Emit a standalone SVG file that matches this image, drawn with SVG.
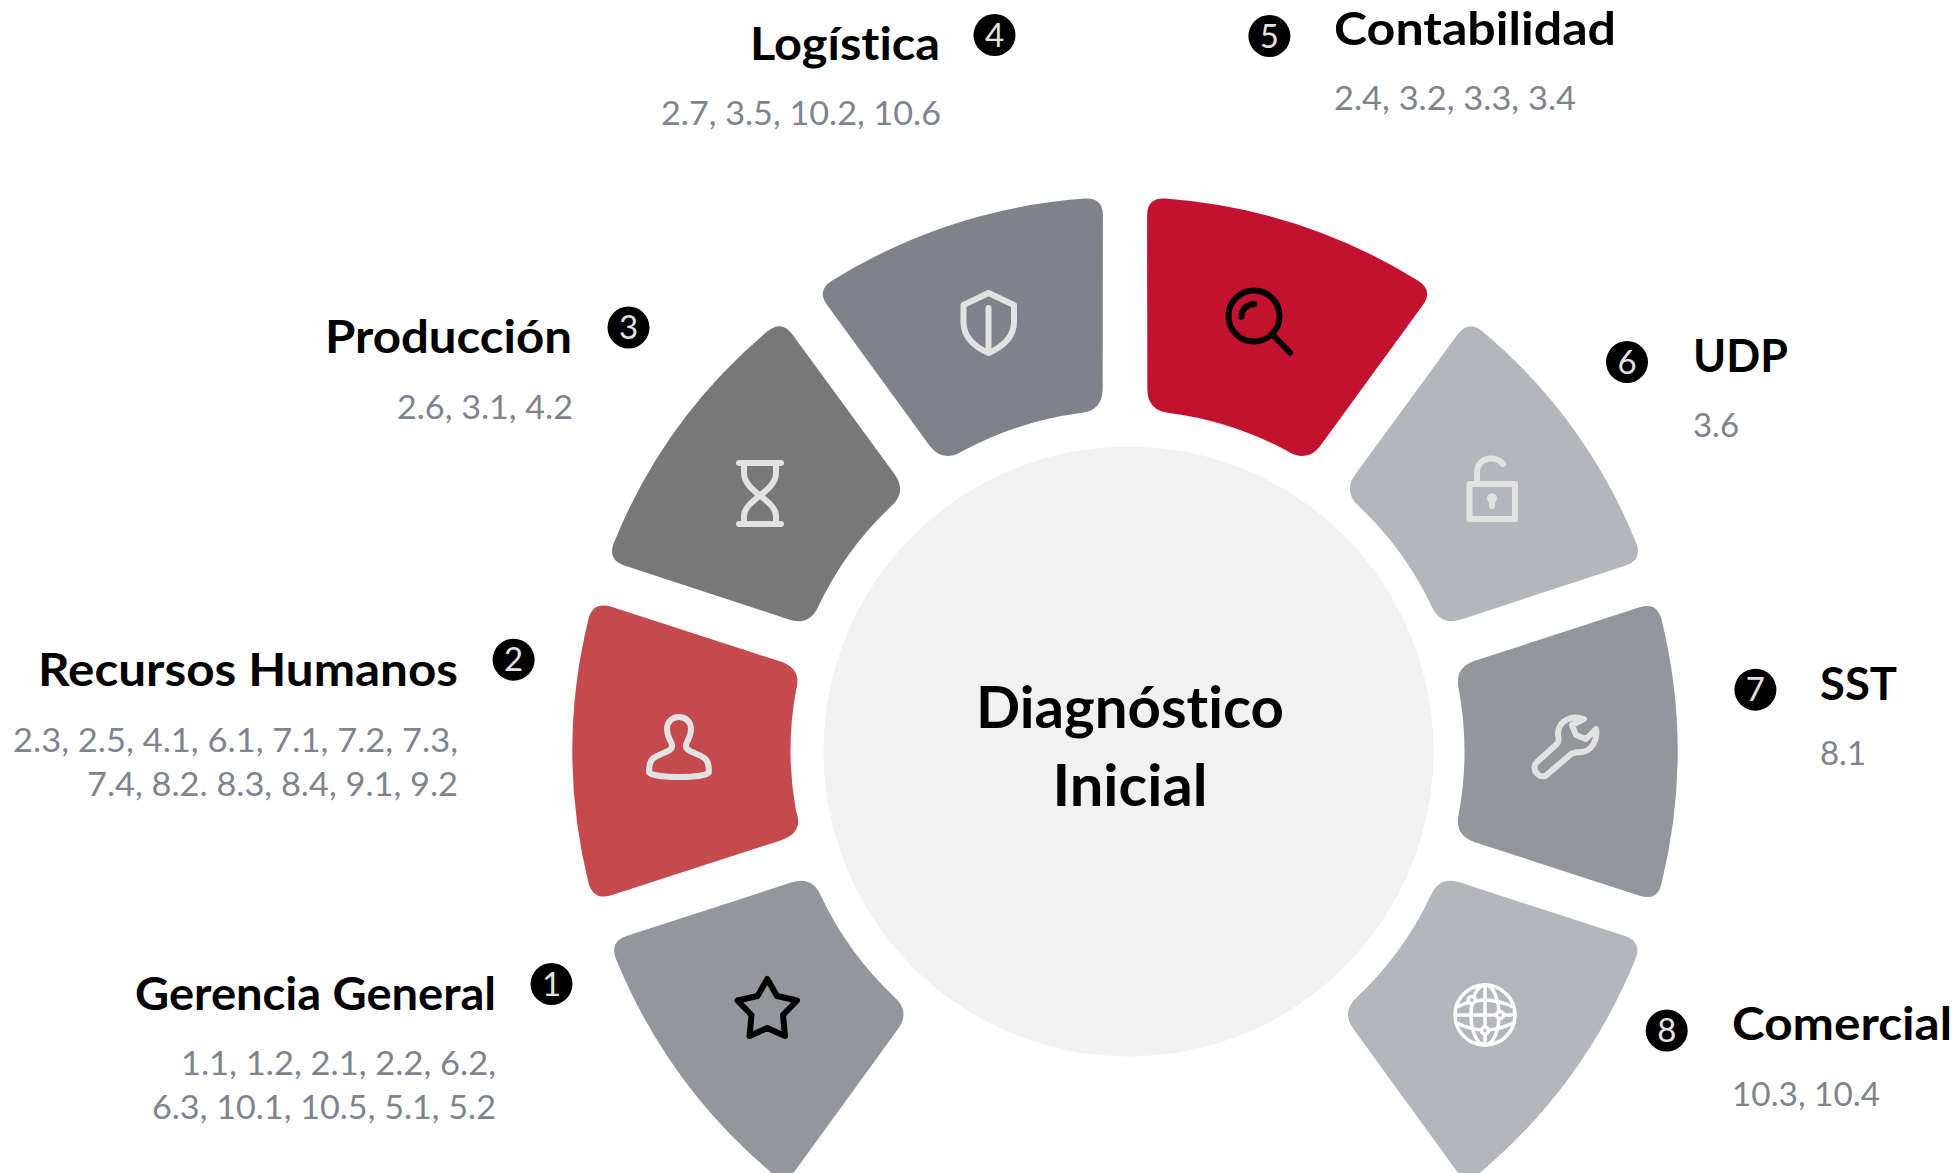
<svg xmlns="http://www.w3.org/2000/svg" xmlns:xlink="http://www.w3.org/1999/xlink" width="1959" height="1173" viewBox="0 0 1959 1173">
<style>
text{font-family:"Lato","Open Sans","Liberation Sans",sans-serif;font-variant-ligatures:none}
.t{font-size:46px;font-weight:700;fill:#000}
.s{font-size:33px;fill:#7f838d}
.c{font-size:58px;font-weight:700;fill:#000;text-anchor:middle}
.n{font-size:33px;fill:#e2e2e2;text-anchor:middle}
.il{fill:none;stroke:#e2e2e2;stroke-width:6;stroke-linecap:round;stroke-linejoin:round}
.ik{fill:none;stroke:#000;stroke-width:6;stroke-linecap:round;stroke-linejoin:round}
.iw{fill:none;stroke:#fff;stroke-width:3.5}
</style>
<defs>
<path id="w" d="M-132.4,-536.9A553,553 0 0 1 132.4,-536.9Q149.83,-532.33 144.27,-515.21L90.72,-350.41Q83.92,-329.49 62.43,-334.2A340,340 0 0 0 -62.43,-334.2Q-83.92,-329.49 -90.72,-350.41L-144.27,-515.21Q-149.83,-532.33 -132.4,-536.9Z"/>
</defs>
<rect width="1959" height="1173" fill="#fff"/>
<g id="connectors"></g>
<g id="centro">
<circle cx="1128.5" cy="751.5" r="305" fill="#f1f1f1"/>
<text class="c" x="1130" y="728" textLength="308" lengthAdjust="spacingAndGlyphs">Diagnóstico</text>
<text class="c" x="1130" y="806" textLength="155" lengthAdjust="spacingAndGlyphs">Inicial</text>
</g>
<g id="n1">
<use xlink:href="#w" href="#w" transform="translate(1128 750) rotate(-126)" fill="#93969d"/>
<path class="ik" d="M767.3 979L777 996L797 1000.5L783 1015L785 1036L767.3 1028L749.5 1036L751.5 1015L737.5 1000.5L757.5 996Z"/>
<circle cx="551.5" cy="984" r="21"/>
<text class="n" x="551.5" y="995.5">1</text>
<text class="t" x="135" y="1010" textLength="361" lengthAdjust="spacingAndGlyphs">Gerencia General</text>
<text class="s" x="181" y="1075" textLength="315" lengthAdjust="spacingAndGlyphs">1.1, 1.2, 2.1, 2.2, 6.2,</text>
<text class="s" x="152" y="1119" textLength="344" lengthAdjust="spacingAndGlyphs">6.3, 10.1, 10.5, 5.1, 5.2</text>
</g>
<g id="n2">
<path transform="translate(1126.5 751) rotate(-90)" fill="#c44a4d" d="M-132.4,-537.9A553,553 0 0 1 132.4,-537.9Q149.83,-533.33 144.27,-515.21L89.5,-346Q82,-324 60.5,-330.5A335,335 0 0 0 -60,-330.5Q-81.500,-322 -89.5,-346L-144.27,-515.21Q-149.83,-532.33 -132.4,-537.9Z"/>
<path class="il" d="M679 717C671 717 667 723 667 729C667 735 669 738 671 742C673 746 672 749 668 751L657 756C650 759 649 765 649 772C649 775 665 777 679 777C693 777 709 775 709 772C709 765 708 759 701 756L690 751C686 749 685 746 687 742C689 738 691 735 691 729C691 723 687 717 679 717Z"/>
<circle cx="513.6" cy="659.7" r="21"/>
<text class="n" x="513.6" y="671">2</text>
<text class="t" x="38" y="686" textLength="420" lengthAdjust="spacingAndGlyphs">Recursos Humanos</text>
<text class="s" x="13" y="752" textLength="445" lengthAdjust="spacingAndGlyphs">2.3, 2.5, 4.1, 6.1, 7.1, 7.2, 7.3,</text>
<text class="s" x="87" y="796" textLength="371" lengthAdjust="spacingAndGlyphs">7.4, 8.2. 8.3, 8.4, 9.1, 9.2</text>
</g>
<g id="n3">
<use xlink:href="#w" href="#w" transform="translate(1126 751.500) rotate(-54) translate(-1.5 0) scale(.99 1)" fill="#787878"/>
<path class="il" d="M739 463H781M739 524H781M744 464V473C744 492 776 500 776 516V524M776 464V473C776 492 744 500 744 516V524"/>
<circle cx="628.5" cy="327.500" r="21"/>
<text class="n" x="628.5" y="339">3</text>
<text class="t" x="325" y="353" textLength="247" lengthAdjust="spacingAndGlyphs">Producción</text>
<text class="s" x="397" y="419" textLength="176" lengthAdjust="spacingAndGlyphs">2.6, 3.1, 4.2</text>
</g>
<g id="n4">
<use xlink:href="#w" href="#w" transform="translate(1125 750) rotate(-18) translate(-.8 0) scale(1.005 1)" fill="#7f828b"/>
<path class="il" d="M988.5 293L1014 305V322C1014 338 1002 347 988.5 353C975 347 963.500 338 963.500 322V305ZM988.500 308V351"/>
<circle cx="994.500" cy="35" r="21"/>
<text class="n" x="994.500" y="46.500">4</text>
<text class="t" x="750" y="60" textLength="190" lengthAdjust="spacingAndGlyphs">Logística</text>
<text class="s" x="661" y="125" textLength="280" lengthAdjust="spacingAndGlyphs">2.7, 3.5, 10.2, 10.6</text>
</g>
<g id="n5">
<use xlink:href="#w" href="#w" transform="translate(1125 750) rotate(18) translate(.8 0) scale(1.005 1)" fill="#c3122f"/>
<circle class="ik" cx="1254" cy="316" r="25.500"/>
<path class="ik" d="M1241.400 316.700A13 13 0 0 1 1254.300 304M1273 335L1290 352.700"/>
<circle cx="1269.400" cy="36" r="21"/>
<text class="n" x="1269.400" y="47.500">5</text>
<text class="t" x="1334" y="45" textLength="282" lengthAdjust="spacingAndGlyphs">Contabilidad</text>
<text class="s" x="1334" y="110" textLength="242" lengthAdjust="spacingAndGlyphs">2.4, 3.2, 3.3, 3.4</text>
</g>
<g id="n6">
<use xlink:href="#w" href="#w" transform="translate(1124 751.500) rotate(54) translate(1.5 0) scale(.99 1)" fill="#b3b6ba"/>
<rect class="il" x="1469.500" y="484" width="45.500" height="35"/>
<path class="il" d="M1477 482V473C1477 455 1498 456 1503 464"/>
<circle cx="1492" cy="498.300" r="5" fill="#e2e2e2"/>
<path d="M1492 500V506" fill="none" stroke="#e2e2e2" stroke-width="6" stroke-linecap="round"/>
<circle cx="1627" cy="362" r="21"/>
<text class="n" x="1627" y="373.500">6</text>
<text class="t" x="1693" y="372" textLength="95" lengthAdjust="spacingAndGlyphs">UDP</text>
<text class="s" x="1693" y="437" textLength="46" lengthAdjust="spacingAndGlyphs">3.6</text>
</g>
<g id="n7">
<use xlink:href="#w" href="#w" transform="translate(1124.500 751.500) rotate(90)" fill="#93969d"/>
<path class="il" d="M1584 719C1572 715 1559 720 1558 733C1558 738 1560 741 1557 744L1537 762C1531 768 1537 778 1545 776C1547 775 1548 774 1550 772L1570 755C1574 751 1578 753 1582 752C1592 751 1598 739 1596 729L1586 739L1576 735L1572 725Z"/>
<circle cx="1755.400" cy="689.700" r="21"/>
<text class="n" x="1755.400" y="701">7</text>
<text class="t" x="1820" y="700" textLength="77" lengthAdjust="spacingAndGlyphs">SST</text>
<text class="s" x="1820" y="765" textLength="46" lengthAdjust="spacingAndGlyphs">8.1</text>
</g>
<g id="n8">
<use xlink:href="#w" href="#w" transform="translate(1123.500 750) rotate(126)" fill="#b3b6ba"/>
<g class="iw">
<circle cx="1485" cy="1015" r="30"/>
<ellipse cx="1485" cy="1015" rx="14" ry="30"/>
<path d="M1485 985V1045M1455 1015H1515M1457 1007Q1485 993 1513 1007M1457 1023Q1485 1037 1513 1023"/>
<circle cx="1471.700" cy="1000" r="3.500" fill="#b3b6ba"/>
<circle cx="1500" cy="1015" r="3.500" fill="#b3b6ba"/>
<circle cx="1485" cy="1030.500" r="3.500" fill="#b3b6ba"/>
</g>
<circle cx="1666.700" cy="1030.500" r="21"/>
<text class="n" x="1666.700" y="1042">8</text>
<text class="t" x="1732" y="1040" textLength="220" lengthAdjust="spacingAndGlyphs">Comercial</text>
<text class="s" x="1732" y="1106" textLength="148" lengthAdjust="spacingAndGlyphs">10.3, 10.4</text>
</g>
</svg>
